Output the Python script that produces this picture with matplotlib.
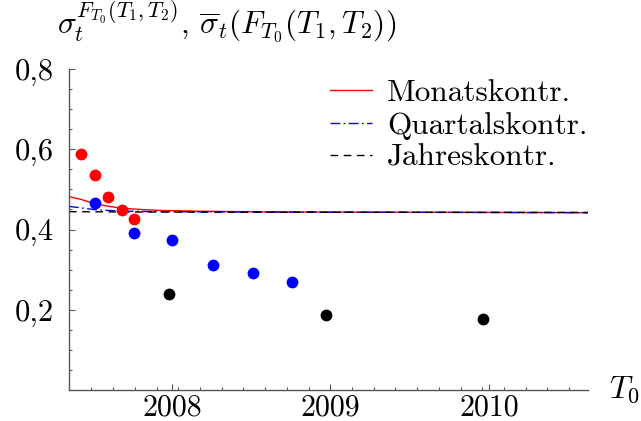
import numpy as np
import matplotlib
matplotlib.use("Agg")
import matplotlib.pyplot as plt
from matplotlib.ticker import FixedLocator, FuncFormatter

plt.rcParams['font.family'] = ['cmr10', 'DejaVu Serif']
plt.rcParams['mathtext.fontset'] = 'cm'
plt.rcParams['axes.unicode_minus'] = False
plt.rcParams['axes.formatter.use_mathtext'] = True

# Punkte (Monats-, Quartals-, Jahreskontrakte)
monat_x = [2007.426, 2007.514, 2007.596, 2007.685, 2007.760]
monat_y = [0.589, 0.537, 0.481, 0.449, 0.426]
quartal_x = [2007.514, 2007.760, 2008.00, 2008.26, 2008.51, 2008.757]
quartal_y = [0.467, 0.3925, 0.3745, 0.3125, 0.292, 0.270]
jahr_x = [2007.98, 2008.97, 2009.96]
jahr_y = [0.239, 0.186, 0.178]

# Kurven
kurve_x = [2007.35, 2007.426, 2007.50, 2007.596, 2007.685, 2007.80, 2007.925,
           2008.18, 2008.555, 2009.44, 2010.625]
monat_kurve = [0.482, 0.475, 0.466, 0.458, 0.453, 0.450, 0.4475,
               0.4455, 0.444, 0.443, 0.442]
quartal_kurve = [0.4575, 0.454, 0.450, 0.4475, 0.446, 0.445, 0.4445,
                 0.444, 0.4435, 0.443, 0.442]
jahr_kurve = [0.4445, 0.4443, 0.4441, 0.444, 0.4438, 0.4436, 0.4435,
              0.4433, 0.443, 0.4428, 0.4425]

fig = plt.figure(figsize=(6.41, 4.21), dpi=100)
ax = fig.add_axes([0.1076, 0.0736, 0.8097, 0.7625])

ax.plot(kurve_x, monat_kurve, color='#ff0000', lw=1.0, label='Monatskontr.')
ax.plot(kurve_x, quartal_kurve, color='#0000ff', lw=1.0, dashes=(7, 2.5, 1.2, 2.5),
        label='Quartalskontr.')
ax.plot(kurve_x, jahr_kurve, color='black', lw=1.0, dashes=(5.5, 4), label='Jahreskontr.')

ax.plot(monat_x, monat_y, 'o', color='#ff0000', ms=8.5, mec='none')
ax.plot(quartal_x, quartal_y, 'o', color='#0000ff', ms=8.5, mec='none')
ax.plot(jahr_x, jahr_y, 'o', color='black', ms=8.5, mec='none')

ax.set_xlim(2007.35, 2010.625)
ax.set_ylim(0, 0.8)

for s in ['top', 'right']:
    ax.spines[s].set_visible(False)
for s in ['left', 'bottom']:
    ax.spines[s].set_color('#555555')
    ax.spines[s].set_linewidth(1.0)

ax.xaxis.set_major_locator(FixedLocator([2008, 2009, 2010]))
ax.xaxis.set_minor_locator(FixedLocator(np.arange(2007.903 - 3 * 50 / 365, 2010.63, 50 / 365)))
ax.yaxis.set_major_locator(FixedLocator([0.2, 0.4, 0.6, 0.8]))
ax.yaxis.set_minor_locator(FixedLocator(np.arange(0.05, 0.8, 0.05)))
ax.yaxis.set_major_formatter(FuncFormatter(lambda v, p: ('%.1f' % v).replace('.', ',')))
ax.xaxis.set_major_formatter(FuncFormatter(lambda v, p: '%d' % round(v)))

ax.tick_params(which='both', direction='in', color='#555555', labelsize=22)
ax.tick_params(which='major', length=4.5, width=0.8)
ax.tick_params(which='minor', length=2.5, width=0.8)
ax.tick_params(axis='y', which='major', pad=11)
ax.tick_params(axis='x', which='major', pad=3, labelsize=21.5)

ax.legend(loc='upper left', bbox_to_anchor=(0.503, 0.968), frameon=False, fontsize=22.5,
          handlelength=1.35, handletextpad=0.48, labelspacing=0.14, borderpad=0.0,
          borderaxespad=0.0)

fig.text(0.089, 0.893, r'$\sigma_t^{F_{T_0}(T_1,T_2)}$, $\overline{\sigma}_t(F_{T_0}(T_1,T_2))$',
         fontsize=22.5, ha='left', va='bottom')
ax.text(1.04, 0.0, r'$T_0$', transform=ax.transAxes, fontsize=23, ha='left', va='center')

fig.savefig('out.png', dpi=100)
